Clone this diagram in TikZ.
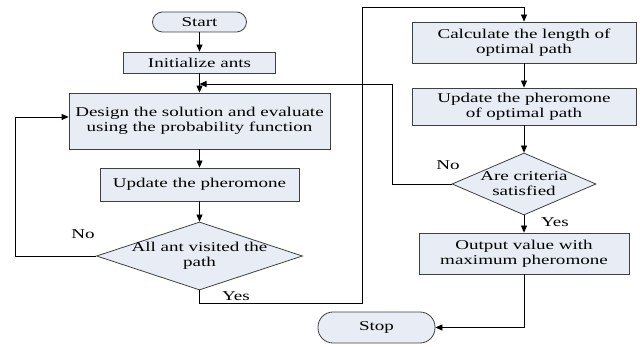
\documentclass[tikz,border=0pt]{standalone}
\usepackage{fontspec}
\setmainfont{Liberation Serif}[FakeStretch=1.41]
\usetikzlibrary{arrows.meta,shapes.geometric}
\definecolor{boxfill}{RGB}{232,237,245}
\definecolor{boxline}{RGB}{64,64,64}
\tikzset{
  every node/.style={font=\fontsize{13.5}{15}\selectfont},
  procbox/.style={draw=boxline,fill=boxfill,line width=0.8pt,inner sep=0pt,align=center},
  termbox/.style={procbox,rounded corners=10pt},
  decbox/.style={diamond,draw=boxline,fill=boxfill,line width=0.8pt,inner sep=0pt,aspect=3},
  lbl/.style={inner sep=0pt,align=center},
  flow/.style={draw=black,line width=0.8pt,-{Triangle[length=7pt,width=6pt]}},
  plain/.style={draw=black,line width=0.8pt}
}
\begin{document}
\begin{tikzpicture}[x=1pt,y=-1pt]
\useasboundingbox (0,0) rectangle (640,347);
% left column
\node[termbox,minimum width=94pt,minimum height=20pt] (start) at (199.5,22) {Start};
\node[procbox,minimum width=152pt,minimum height=21pt] (init) at (199.5,62.5) {Initialize ants};
\node[procbox,minimum width=261pt,minimum height=56pt] (design) at (199.5,121) {Design the solution and evaluate\\using the probability function};
\node[procbox,minimum width=199pt,minimum height=33pt] (update) at (199.5,184.5) {Update the pheromone};
\node[decbox,minimum width=206pt,minimum height=68pt] (d1) at (199.5,256) {};
\node[lbl] (d1t) at (199.5,256) {All ant visited the\\path};
% right column
\node[procbox,minimum width=224pt,minimum height=41pt] (calc) at (524,42.5) {Calculate the length of\\optimal path};
\node[procbox,minimum width=224pt,minimum height=37pt] (upd2) at (524,106.5) {Update the pheromone\\of optimal path};
\node[decbox,minimum width=144pt,minimum height=62pt] (d2) at (524,184) {};
\node[lbl] (d2t) at (524,184) {Are criteria\\satisfied};
\node[procbox,minimum width=210pt,minimum height=41pt] (out) at (524,253.5) {Output value with\\maximum pheromone};
\node[termbox,minimum width=117pt,minimum height=31pt,rounded corners=15pt] (stop) at (376.5,327.5) {Stop};
% labels
\node[lbl] (no1) at (83,234) {No};
\node[lbl] (yes1) at (236,296) {Yes};
\node[lbl] (no2) at (448,165) {No};
\node[lbl] (yes2) at (555,222) {Yes};
% helper coordinates
\coordinate (lx) at (15,0);
\coordinate (dl) at (0,117);
\coordinate (yb) at (0,303);
\coordinate (yx) at (362,0);
\coordinate (yt) at (0,7);
\coordinate (fx) at (392,0);
\coordinate (fy) at (0,84);
% connectors
\draw[flow] (start) -- (init);
\draw[flow] (init) -- (design);
\draw[flow] (design) -- (update);
\draw[flow] (update) -- (d1);
\draw[flow] (d1.west) -- (lx |- d1.west) -- (lx |- dl) -- (design.west |- dl);
\draw[flow] (d1.south) -- (d1.south |- yb) -- (yx |- yb) -- (yx |- yt) -- (calc.north |- yt) -- (calc.north);
\draw[flow] (calc) -- (upd2);
\draw[flow] (upd2) -- (d2);
\draw[flow] (d2) -- (out);
\draw[flow] (d2.west) -- (fx |- d2.west) -- (fx |- fy) -- (init.south |- fy);
\draw[flow] (out.south) -- (out.south |- stop.east) -- (stop.east);
\end{tikzpicture}
\end{document}
